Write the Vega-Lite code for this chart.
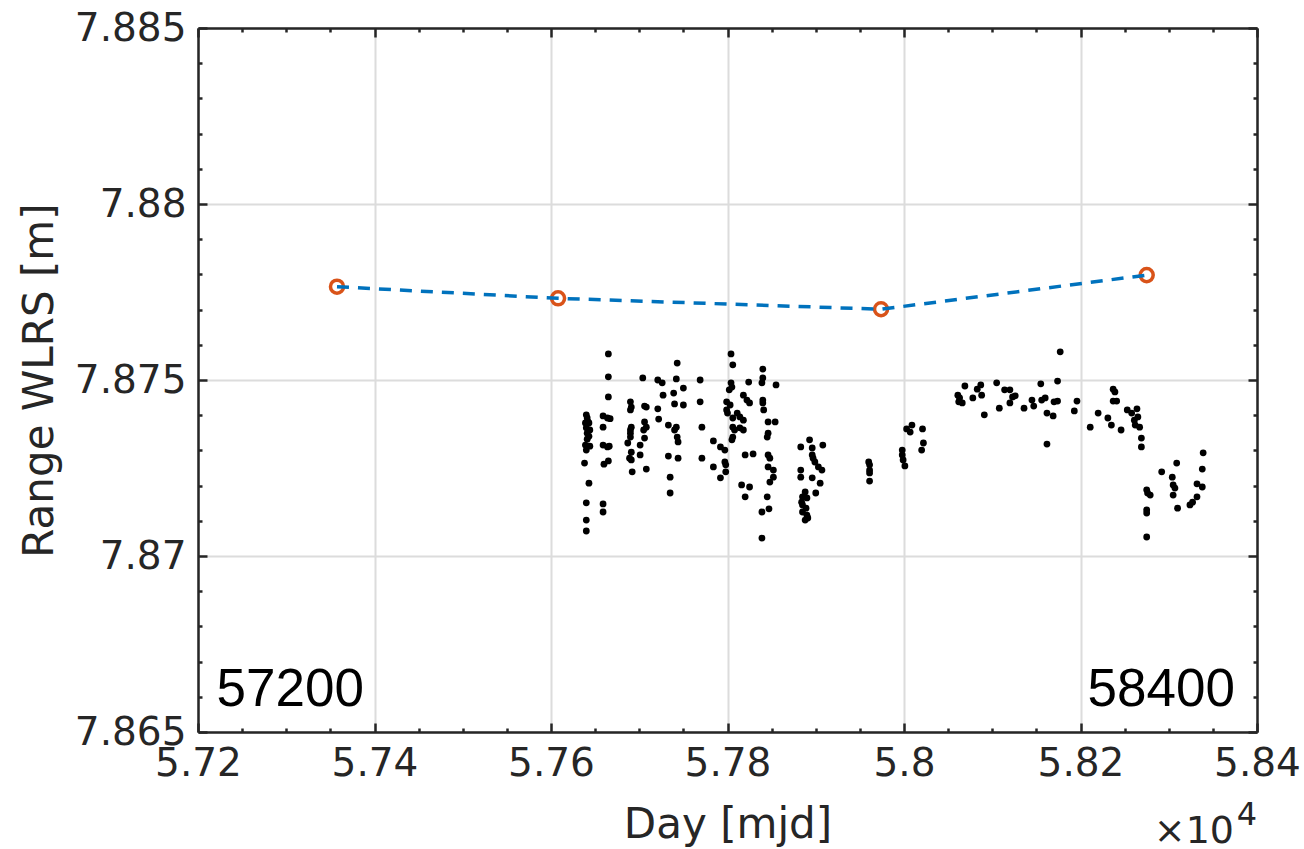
{
  "$schema": "https://vega.github.io/schema/vega-lite/v6.json",
  "width": 1059,
  "height": 704,
  "autosize": {"type": "none"},
  "padding": {"left": 198, "top": 28, "right": 47, "bottom": 117},
  "background": "white",
  "config": {"view": {"stroke": null}, "font": "DejaVu Sans"},
  "datasets": {
    "dots": [
      {"d":57640,"r":7.87401},{"d":57641,"r":7.87392},{"d":57642,"r":7.87381},{"d":57639,"r":7.87378},{"d":57643,"r":7.87378},{"d":57640,"r":7.87364},{"d":57644,"r":7.87358},{"d":57641,"r":7.87349},{"d":57643,"r":7.8734},{"d":57641,"r":7.87332},{"d":57639,"r":7.87315},{"d":57644,"r":7.87312},{"d":57640,"r":7.87301},{"d":57638,"r":7.87264},{"d":57643,"r":7.87207},{"d":57640,"r":7.87151},{"d":57640,"r":7.87102},{"d":57640,"r":7.87071},
      {"d":57665,"r":7.87574},{"d":57665,"r":7.87509},{"d":57665,"r":7.87452},{"d":57659,"r":7.87398},{"d":57664,"r":7.87392},{"d":57667,"r":7.8739},{"d":57659,"r":7.87366},{"d":57659,"r":7.87315},{"d":57664,"r":7.8731},{"d":57666,"r":7.87312},{"d":57665,"r":7.8727},{"d":57660,"r":7.87261},{"d":57659,"r":7.87148},{"d":57659,"r":7.87125},
      {"d":57690,"r":7.87438},{"d":57691,"r":7.87423},{"d":57690,"r":7.87415},{"d":57691,"r":7.87366},{"d":57690,"r":7.87358},{"d":57690,"r":7.87349},{"d":57690,"r":7.87338},{"d":57687,"r":7.87321},{"d":57691,"r":7.87295},{"d":57689,"r":7.87278},{"d":57691,"r":7.87273},{"d":57692,"r":7.87239},
      {"d":57704,"r":7.87506},{"d":57706,"r":7.87426},{"d":57708,"r":7.87423},{"d":57706,"r":7.87381},{"d":57708,"r":7.87366},{"d":57705,"r":7.87358},{"d":57706,"r":7.87335},{"d":57701,"r":7.87315},{"d":57701,"r":7.87287},{"d":57708,"r":7.87247},
      {"d":57721,"r":7.875},{"d":57726,"r":7.87492},{"d":57727,"r":7.87457},{"d":57721,"r":7.87418},{"d":57722,"r":7.87389},{"d":57733,"r":7.87372},
      {"d":57733,"r":7.87284},{"d":57735,"r":7.87224},{"d":57735,"r":7.87179},
      {"d":57743,"r":7.87548},{"d":57742,"r":7.87503},{"d":57750,"r":7.87477},{"d":57739,"r":7.87463},{"d":57740,"r":7.87432},{"d":57750,"r":7.87429},{"d":57742,"r":7.87366},{"d":57740,"r":7.87358},{"d":57743,"r":7.87338},{"d":57744,"r":7.87324},{"d":57744,"r":7.87278},
      {"d":57769,"r":7.875},{"d":57769,"r":7.87438},{"d":57771,"r":7.87366},{"d":57771,"r":7.87278},
      {"d":57784,"r":7.87327},{"d":57792,"r":7.8731},{"d":57797,"r":7.87301},{"d":57784,"r":7.87253},{"d":57792,"r":7.87222},{"d":57797,"r":7.87267},{"d":57798,"r":7.87259},{"d":57798,"r":7.87239},
      {"d":57804,"r":7.87574},{"d":57806,"r":7.87543},{"d":57804,"r":7.87492},{"d":57805,"r":7.8748},{"d":57802,"r":7.87472},{"d":57799,"r":7.87438},{"d":57803,"r":7.87429},{"d":57799,"r":7.87415},{"d":57800,"r":7.87406},{"d":57806,"r":7.87392},{"d":57806,"r":7.87366},{"d":57806,"r":7.87338},{"d":57805,"r":7.8733},{"d":57808,"r":7.87358},
      {"d":57818,"r":7.87457},{"d":57822,"r":7.87443},{"d":57825,"r":7.87435},{"d":57811,"r":7.87406},{"d":57814,"r":7.87395},{"d":57818,"r":7.87386},{"d":57814,"r":7.87364},{"d":57818,"r":7.87358},{"d":57824,"r":7.87494},{"d":57820,"r":7.87287},{"d":57829,"r":7.8729},{"d":57816,"r":7.87202},{"d":57825,"r":7.87196},{"d":57820,"r":7.87168},
      {"d":57840,"r":7.87531},{"d":57840,"r":7.87506},{"d":57839,"r":7.87492},{"d":57840,"r":7.87443},{"d":57840,"r":7.87435},{"d":57841,"r":7.87415},{"d":57846,"r":7.87381},{"d":57846,"r":7.87349},{"d":57845,"r":7.87338},{"d":57846,"r":7.87287},{"d":57848,"r":7.87278},{"d":57846,"r":7.87253},{"d":57852,"r":7.87244},{"d":57852,"r":7.87224},{"d":57848,"r":7.8721},{"d":57845,"r":7.87168},{"d":57839,"r":7.87125},{"d":57839,"r":7.87051},{"d":57847,"r":7.87134},
      {"d":57855,"r":7.87486},{"d":57854,"r":7.87381},
      {"d":57893,"r":7.8733},{"d":57883,"r":7.8731},{"d":57896,"r":7.87307},{"d":57908,"r":7.87315},{"d":57896,"r":7.87287},{"d":57897,"r":7.87278},{"d":57899,"r":7.87267},{"d":57903,"r":7.87253},{"d":57907,"r":7.87244},{"d":57883,"r":7.87244},{"d":57883,"r":7.87224},{"d":57896,"r":7.87222},{"d":57905,"r":7.87207},{"d":57900,"r":7.87179},{"d":57888,"r":7.87182},{"d":57885,"r":7.87168},{"d":57890,"r":7.87165},{"d":57884,"r":7.87153},{"d":57885,"r":7.87145},{"d":57889,"r":7.87136},{"d":57885,"r":7.87125},{"d":57890,"r":7.87116},{"d":57888,"r":7.87102},{"d":57891,"r":7.87108},
      {"d":57960,"r":7.87267},{"d":57961,"r":7.87259},{"d":57961,"r":7.87244},{"d":57961,"r":7.87236},{"d":57961,"r":7.87213},
      {"d":57998,"r":7.87301},{"d":57998,"r":7.87287},{"d":57999,"r":7.87273},{"d":58001,"r":7.87256},
      {"d":58009,"r":7.87372},{"d":58003,"r":7.87361},{"d":58007,"r":7.87352},
      {"d":58021,"r":7.87361},{"d":58022,"r":7.87321},{"d":58020,"r":7.87301},
      {"d":58061,"r":7.87457},{"d":58063,"r":7.87449},{"d":58062,"r":7.87438},{"d":58066,"r":7.87435},{"d":58069,"r":7.87483},{"d":58078,"r":7.87449},{"d":58083,"r":7.87474},{"d":58087,"r":7.87486},{"d":58088,"r":7.87457},{"d":58091,"r":7.87401},
      {"d":58105,"r":7.87492},{"d":58108,"r":7.8742},{"d":58114,"r":7.87472},{"d":58120,"r":7.87472},{"d":58120,"r":7.87435},{"d":58123,"r":7.87452},{"d":58126,"r":7.87455},{"d":58136,"r":7.8742},{"d":58145,"r":7.87443},{"d":58147,"r":7.87426},
      {"d":58155,"r":7.87489},{"d":58156,"r":7.87443},{"d":58160,"r":7.87449},{"d":58162,"r":7.87318},{"d":58162,"r":7.87406},{"d":58169,"r":7.87398},{"d":58170,"r":7.87438},{"d":58174,"r":7.8744},{"d":58174,"r":7.87497},{"d":58177,"r":7.8758},
      {"d":58193,"r":7.87412},{"d":58196,"r":7.8744},{"d":58211,"r":7.87366},{"d":58220,"r":7.87406},{"d":58231,"r":7.87392},{"d":58235,"r":7.87372},{"d":58237,"r":7.87474},{"d":58239,"r":7.87466},{"d":58237,"r":7.8744},{"d":58241,"r":7.8744},
      {"d":58246,"r":7.87358},{"d":58253,"r":7.87415},{"d":58258,"r":7.87406},{"d":58261,"r":7.87386},{"d":58264,"r":7.87418},{"d":58265,"r":7.87395},{"d":58262,"r":7.87372},{"d":58267,"r":7.87366},{"d":58269,"r":7.87335},{"d":58269,"r":7.8731},
      {"d":58275,"r":7.87188},{"d":58276,"r":7.87179},{"d":58279,"r":7.87173},{"d":58275,"r":7.87131},{"d":58275,"r":7.87122},{"d":58275,"r":7.87054},{"d":58292,"r":7.87239},{"d":58304,"r":7.87224},{"d":58305,"r":7.87202},{"d":58307,"r":7.87193},
      {"d":58305,"r":7.87173},{"d":58309,"r":7.87264},{"d":58310,"r":7.87136},{"d":58324,"r":7.87145},{"d":58327,"r":7.87153},{"d":58332,"r":7.87168},{"d":58332,"r":7.87205},{"d":58338,"r":7.87196},{"d":58338,"r":7.87247},{"d":58339,"r":7.87293}
    ],
    "fit": [
      {"d":57357.5,"r":7.87765},{"d":57608,"r":7.87732},{"d":57974,"r":7.87701},{"d":58275,"r":7.87798}
    ]
  },
  "layer": [
    {
      "data": {"name": "dots"},
      "mark": {"type": "circle", "color": "black", "size": 46, "opacity": 1},
      "encoding": {
        "x": {
          "field": "d", "type": "quantitative",
          "scale": {"domain": [57200, 58400], "nice": false, "zero": false},
          "axis": {
            "orient": "bottom",
            "values": [57200,57250,57300,57350,57400,57450,57500,57550,57600,57650,57700,57750,57800,57850,57900,57950,58000,58050,58100,58150,58200,58250,58300,58350,58400],
            "title": "Day [mjd]",
            "titleFont": "DejaVu Sans", "titleFontSize": 42, "titleFontWeight": "normal", "titleColor": "#262626",
            "titleX": 529.5, "titleY": 105, "titleBaseline": "alphabetic", "titleAlign": "center", "titleAnchor": null,
            "labelExpr": "datum.value % 200 === 0 ? format(datum.value/10000, '.3~g') : ''",
            "labelFont": "DejaVu Sans", "labelFontSize": 39, "labelColor": "#262626",
            "labelBaseline": "alphabetic", "labelPadding": 52,
            "labelFlush": false, "labelOverlap": false, "labelBound": false,
            "domainColor": "#262626", "domainWidth": 2.5,
            "tickColor": "#262626", "tickWidth": 2.5,
            "tickSize": {"condition": {"test": "datum.value % 200 === 0", "value": -9}, "value": -4},
            "grid": true, "gridColor": "#dcdcdc", "gridWidth": 2,
            "gridOpacity": {"condition": {"test": "datum.value % 200 === 0", "value": 1}, "value": 0}
          }
        },
        "y": {
          "field": "r", "type": "quantitative",
          "scale": {"domain": [7.865, 7.885], "nice": false, "zero": false},
          "axis": {
            "orient": "left",
            "values": [7.865,7.866,7.867,7.868,7.869,7.87,7.871,7.872,7.873,7.874,7.875,7.876,7.877,7.878,7.879,7.88,7.881,7.882,7.883,7.884,7.885],
            "title": "Range WLRS [m]",
            "titleFont": "DejaVu Sans", "titleFontSize": 42, "titleFontWeight": "normal", "titleColor": "#262626",
            "titleX": -146, "titleY": 352, "titleAngle": -90, "titleBaseline": "alphabetic", "titleAlign": "center", "titleAnchor": null,
            "labelExpr": "abs(datum.value*200 - round(datum.value*200)) < 0.01 ? format(datum.value, '.3~f') : ''",
            "labelFont": "DejaVu Sans", "labelFontSize": 39, "labelColor": "#262626",
            "labelPadding": 21, "labelFlush": false, "labelOverlap": false, "labelBound": false,
            "domainColor": "#262626", "domainWidth": 2.5,
            "tickColor": "#262626", "tickWidth": 2.5,
            "tickSize": {"condition": {"test": "abs(datum.value*200 - round(datum.value*200)) < 0.01", "value": -9}, "value": -4},
            "grid": true, "gridColor": "#dcdcdc", "gridWidth": 2,
            "gridOpacity": {"condition": {"test": "abs(datum.value*200 - round(datum.value*200)) < 0.01", "value": 1}, "value": 0}
          }
        }
      }
    },
    {
      "data": {"name": "fit"},
      "mark": {"type": "point", "shape": "circle", "filled": false, "stroke": "#D95319", "strokeWidth": 3.5, "size": 170, "opacity": 1},
      "encoding": {
        "x": {
          "field": "d", "type": "quantitative",
          "axis": {
            "orient": "top", "title": null, "labels": false, "grid": false,
            "values": [57200,57250,57300,57350,57400,57450,57500,57550,57600,57650,57700,57750,57800,57850,57900,57950,58000,58050,58100,58150,58200,58250,58300,58350,58400],
            "domainColor": "#262626", "domainWidth": 2.5,
            "tickColor": "#262626", "tickWidth": 2.5,
            "tickSize": {"condition": {"test": "datum.value % 200 === 0", "value": -9}, "value": -4}
          }
        },
        "y": {
          "field": "r", "type": "quantitative",
          "axis": {
            "orient": "right", "title": null, "labels": false, "grid": false,
            "values": [7.865,7.866,7.867,7.868,7.869,7.87,7.871,7.872,7.873,7.874,7.875,7.876,7.877,7.878,7.879,7.88,7.881,7.882,7.883,7.884,7.885],
            "domainColor": "#262626", "domainWidth": 2.5,
            "tickColor": "#262626", "tickWidth": 2.5,
            "tickSize": {"condition": {"test": "abs(datum.value*200 - round(datum.value*200)) < 0.01", "value": -9}, "value": -4}
          }
        }
      }
    },
    {
      "data": {"name": "fit"},
      "mark": {"type": "line", "color": "#0072BD", "strokeWidth": 3.5, "strokeDash": [12, 9]},
      "encoding": {
        "x": {"field": "d", "type": "quantitative", "axis": null},
        "y": {"field": "r", "type": "quantitative", "axis": null}
      }
    },
    {
      "data": {"values": [{"label": "57200", "d": 57221, "r": 7.86574}]},
      "mark": {"type": "text", "align": "left", "baseline": "alphabetic", "font": "Liberation Sans", "fontSize": 53, "color": "black"},
      "encoding": {
        "x": {"field": "d", "type": "quantitative", "axis": null},
        "y": {"field": "r", "type": "quantitative", "axis": null},
        "text": {"field": "label"}
      }
    },
    {
      "data": {"values": [{"label": "58400", "d": 58375, "r": 7.86574}]},
      "mark": {"type": "text", "align": "right", "baseline": "alphabetic", "font": "Liberation Sans", "fontSize": 53, "color": "black"},
      "encoding": {
        "x": {"field": "d", "type": "quantitative", "axis": null},
        "y": {"field": "r", "type": "quantitative", "axis": null},
        "text": {"field": "label"}
      }
    },
    {
      "data": {"values": [{"label": "×10", "d": 58374, "r": 7.86184}]},
      "mark": {"type": "text", "align": "right", "baseline": "alphabetic", "font": "DejaVu Sans", "fontSize": 38, "color": "#262626"},
      "encoding": {
        "x": {"field": "d", "type": "quantitative", "axis": null},
        "y": {"field": "r", "type": "quantitative", "axis": null},
        "text": {"field": "label"}
      }
    },
    {
      "data": {"values": [{"label": "4", "d": 58377, "r": 7.86235}]},
      "mark": {"type": "text", "align": "left", "baseline": "alphabetic", "font": "DejaVu Sans", "fontSize": 32, "color": "#262626"},
      "encoding": {
        "x": {"field": "d", "type": "quantitative", "axis": null},
        "y": {"field": "r", "type": "quantitative", "axis": null},
        "text": {"field": "label"}
      }
    }
  ],
  "resolve": {"axis": {"x": "independent", "y": "independent"}}
}
